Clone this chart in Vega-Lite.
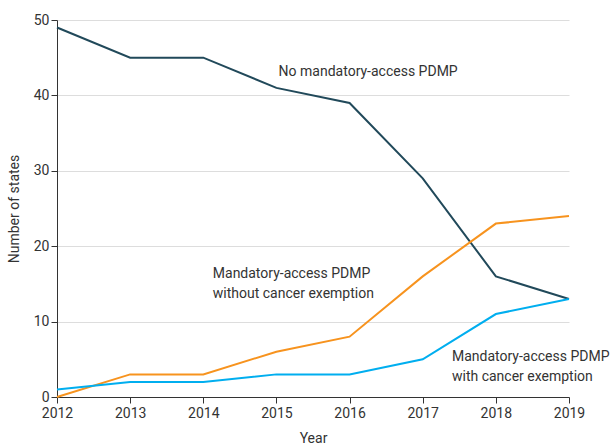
{
  "$schema": "https://vega.github.io/schema/vega-lite/v6.json",
  "width": 512,
  "height": 377,
  "autosize": "none",
  "padding": {"left": 57, "top": 20, "right": 44, "bottom": 50},
  "background": "white",
  "config": {
    "view": {"stroke": null},
    "font": "Roboto",
    "axis": {"labelFont": "Roboto", "titleFont": "Roboto", "labelFontSize": 14, "titleFontSize": 14, "titleFontWeight": "normal", "labelColor": "#333", "titleColor": "#333", "domainColor": "#333", "tickColor": "#333"}
  },
  "datasets": {
    "series": [
      {"year": 2012, "n": 49, "group": "No mandatory-access PDMP"},
      {"year": 2013, "n": 45, "group": "No mandatory-access PDMP"},
      {"year": 2014, "n": 45, "group": "No mandatory-access PDMP"},
      {"year": 2015, "n": 41, "group": "No mandatory-access PDMP"},
      {"year": 2016, "n": 39, "group": "No mandatory-access PDMP"},
      {"year": 2017, "n": 29, "group": "No mandatory-access PDMP"},
      {"year": 2018, "n": 16, "group": "No mandatory-access PDMP"},
      {"year": 2019, "n": 13, "group": "No mandatory-access PDMP"},
      {"year": 2012, "n": 0, "group": "Without cancer exemption"},
      {"year": 2013, "n": 3, "group": "Without cancer exemption"},
      {"year": 2014, "n": 3, "group": "Without cancer exemption"},
      {"year": 2015, "n": 6, "group": "Without cancer exemption"},
      {"year": 2016, "n": 8, "group": "Without cancer exemption"},
      {"year": 2017, "n": 16, "group": "Without cancer exemption"},
      {"year": 2018, "n": 23, "group": "Without cancer exemption"},
      {"year": 2019, "n": 24, "group": "Without cancer exemption"},
      {"year": 2012, "n": 1, "group": "With cancer exemption"},
      {"year": 2013, "n": 2, "group": "With cancer exemption"},
      {"year": 2014, "n": 2, "group": "With cancer exemption"},
      {"year": 2015, "n": 3, "group": "With cancer exemption"},
      {"year": 2016, "n": 3, "group": "With cancer exemption"},
      {"year": 2017, "n": 5, "group": "With cancer exemption"},
      {"year": 2018, "n": 11, "group": "With cancer exemption"},
      {"year": 2019, "n": 13, "group": "With cancer exemption"}
    ],
    "labels": [
      {"x": 2015.03, "y": 43.1, "text": "No mandatory-access PDMP"},
      {"x": 2014.13, "y": 16.3, "text": "Mandatory-access PDMP"},
      {"x": 2014.13, "y": 13.6, "text": "without cancer exemption"},
      {"x": 2017.4, "y": 5.3, "text": "Mandatory-access PDMP"},
      {"x": 2017.4, "y": 2.6, "text": "with cancer exemption"}
    ]
  },
  "layer": [
    {
      "data": {"name": "series"},
      "mark": {"type": "line", "strokeWidth": 2},
      "encoding": {
        "x": {"field": "year", "type": "quantitative", "title": "Year",
              "scale": {"domain": [2012, 2019], "nice": false, "zero": false},
              "axis": {"format": "d", "values": [2012, 2013, 2014, 2015, 2016, 2017, 2018, 2019], "grid": false, "tickSize": 6, "labelPadding": 3, "titlePadding": 11, "labelFlush": false, "labelOverlap": false}},
        "y": {"field": "n", "type": "quantitative", "title": "Number of states",
              "scale": {"domain": [0, 50], "nice": false},
              "axis": {"values": [0, 10, 20, 30, 40, 50], "grid": true, "gridColor": "#dddddd", "tickSize": 6, "labelPadding": 2, "titlePadding": 12, "labelFlush": false}},
        "color": {"field": "group", "type": "nominal", "legend": null,
                  "scale": {"domain": ["No mandatory-access PDMP", "Without cancer exemption", "With cancer exemption"], "range": ["#21495a", "#f7931e", "#00aeef"]}}
      }
    },
    {
      "data": {"name": "labels"},
      "mark": {"type": "text", "align": "left", "baseline": "middle", "fontSize": 14, "color": "#333", "font": "Roboto"},
      "encoding": {
        "x": {"field": "x", "type": "quantitative"},
        "y": {"field": "y", "type": "quantitative"},
        "text": {"field": "text"}
      }
    }
  ]
}
